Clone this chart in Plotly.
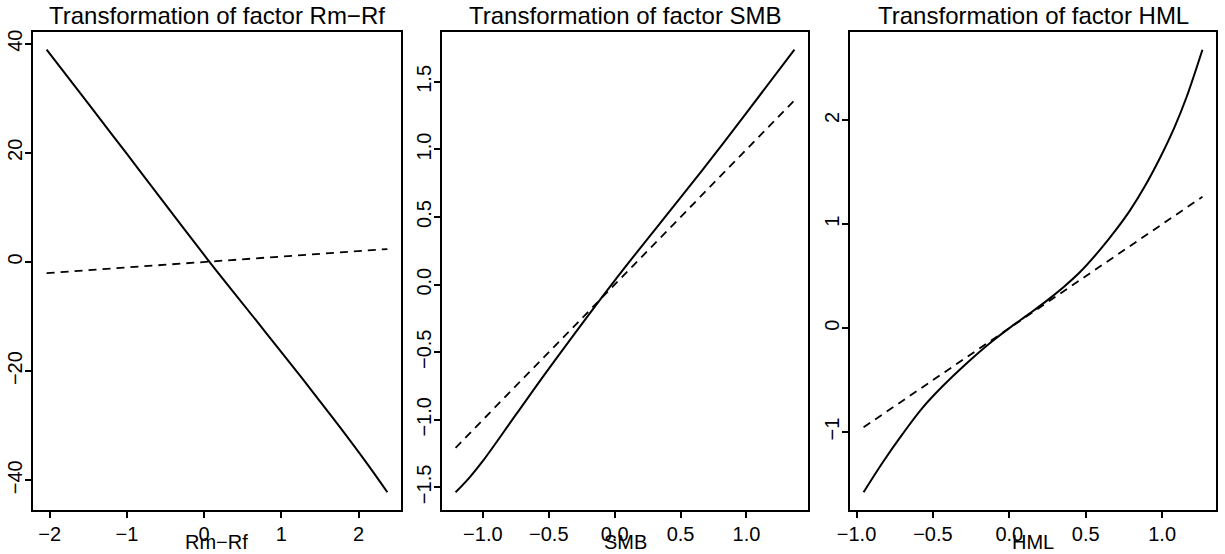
import plotly.graph_objects as go

# ---- data ----
factors = ["Rm\u2212Rf", "SMB", "HML"]

rmrf_x = [-2.04, -1.5, -1.0, -0.5, 0.056, 0.38, 0.814, 1.247, 1.463, 1.766, 2.113, 2.373]
rmrf_y = [38.9, 29.0, 19.8, 10.5, 0.27, -5.5, -13.2, -20.9, -24.85, -30.4, -37.0, -42.2]

smb_x = [-1.207, -1.1, -0.998, -0.745, -0.492, 0.0, 0.492, 0.745, 0.997, 1.364]
smb_y = [-1.536, -1.425, -1.302, -0.956, -0.612, 0.03, 0.634, 0.947, 1.267, 1.738]

hml_x = [-0.954, -0.828, -0.698, -0.567, -0.437, -0.284, -0.132, 0.0, 0.129, 0.246,
         0.35, 0.463, 0.6, 0.7, 0.789, 0.885, 0.985, 1.08, 1.159, 1.264]
hml_y = [-1.580, -1.291, -1.018, -0.765, -0.56, -0.345, -0.15, 0.0, 0.137, 0.265,
         0.389, 0.54, 0.765, 0.95, 1.131, 1.36, 1.635, 1.93, 2.22, 2.68]

# identity (dashed) reference lines over each factor's range
rmrf_id = [-2.04, 2.373]
smb_id = [-1.207, 1.364]
hml_id = [-0.954, 1.264]

rmrf_xticks = [-2, -1, 0, 1, 2]
rmrf_yticks = [-40, -20, 0, 20, 40]
smb_xticks = [-1.0, -0.5, 0.0, 0.5, 1.0]
smb_yticks = [-1.5, -1.0, -0.5, 0.0, 0.5, 1.0, 1.5]
hml_xticks = [-1.0, -0.5, 0.0, 0.5, 1.0]
hml_yticks = [-1, 0, 1, 2]

panels = [
    (rmrf_x, rmrf_y, rmrf_id, rmrf_xticks, rmrf_yticks, "d", "d"),
    (smb_x, smb_y, smb_id, smb_xticks, smb_yticks, ".1f", ".1f"),
    (hml_x, hml_y, hml_id, hml_xticks, hml_yticks, ".1f", "d"),
]

W, H = 1225, 554
xdom_px = [(33, 401), (442, 808), (850, 1216)]
ytop_px, ybot_px = 32, 510
FONT = "Liberation Sans, Arial, Helvetica, sans-serif"

fig = go.Figure()
layout = dict(
    width=W, height=H,
    margin=dict(l=0, r=0, t=0, b=0, autoexpand=False),
    paper_bgcolor="white", plot_bgcolor="white",
    showlegend=False,
    font=dict(family=FONT, size=20, color="black"),
)
annotations = []

def pad(lo, hi):
    e = (hi - lo) * 0.04
    return [lo - e, hi + e]

for i, (xs, ys, idl, xt, yt, xf, yf) in enumerate(panels):
    n = "" if i == 0 else str(i + 1)
    fig.add_trace(go.Scatter(x=xs, y=ys, mode="lines",
                             line=dict(color="black", width=2, shape="spline", smoothing=1.0),
                             xaxis="x" + n, yaxis="y" + n))
    fig.add_trace(go.Scatter(x=idl, y=idl, mode="lines",
                             line=dict(color="black", width=1.8, dash="8px,6px"),
                             xaxis="x" + n, yaxis="y" + n))
    x0, x1 = xdom_px[i]
    dom = [x0 / W, x1 / W]
    ydom = [(H - ybot_px) / H, (H - ytop_px) / H]
    ymin = min(min(ys), min(idl)); ymax = max(max(ys), max(idl))
    common = dict(showline=True, mirror=True, linecolor="black", linewidth=1.6,
                  ticks="outside", ticklen=6, tickwidth=1.5, tickcolor="black",
                  showgrid=False, zeroline=False, automargin=False,
                  tickfont=dict(family=FONT, size=20, color="black"))
    layout["xaxis" + n] = dict(domain=dom, range=pad(min(xs), max(xs)), anchor="y" + n,
                               tickvals=xt, tickformat=xf, ticklabelstandoff=-1, **common)
    layout["yaxis" + n] = dict(domain=ydom, range=pad(ymin, ymax), anchor="x" + n,
                               tickvals=yt, tickformat=yf, tickangle=-90,
                               ticklabelstandoff=-5, **common)
    cx = (x0 + x1) / 2 / W
    annotations.append(dict(text="Transformation of factor " + factors[i], x=cx, y=(H - 15) / H,
                            xref="paper", yref="paper", xanchor="center", yanchor="middle",
                            showarrow=False, font=dict(family=FONT, size=24, color="black")))
    annotations.append(dict(text=factors[i], x=cx, y=(H - 542) / H,
                            xref="paper", yref="paper", xanchor="center", yanchor="middle",
                            showarrow=False, font=dict(family=FONT, size=20, color="black")))

layout["annotations"] = annotations
fig.update_layout(**layout)
fig.write_html("out.html", config={"displayModeBar": False},
               post_script="document.body.style.margin='0';document.body.style.overflow='hidden';")
